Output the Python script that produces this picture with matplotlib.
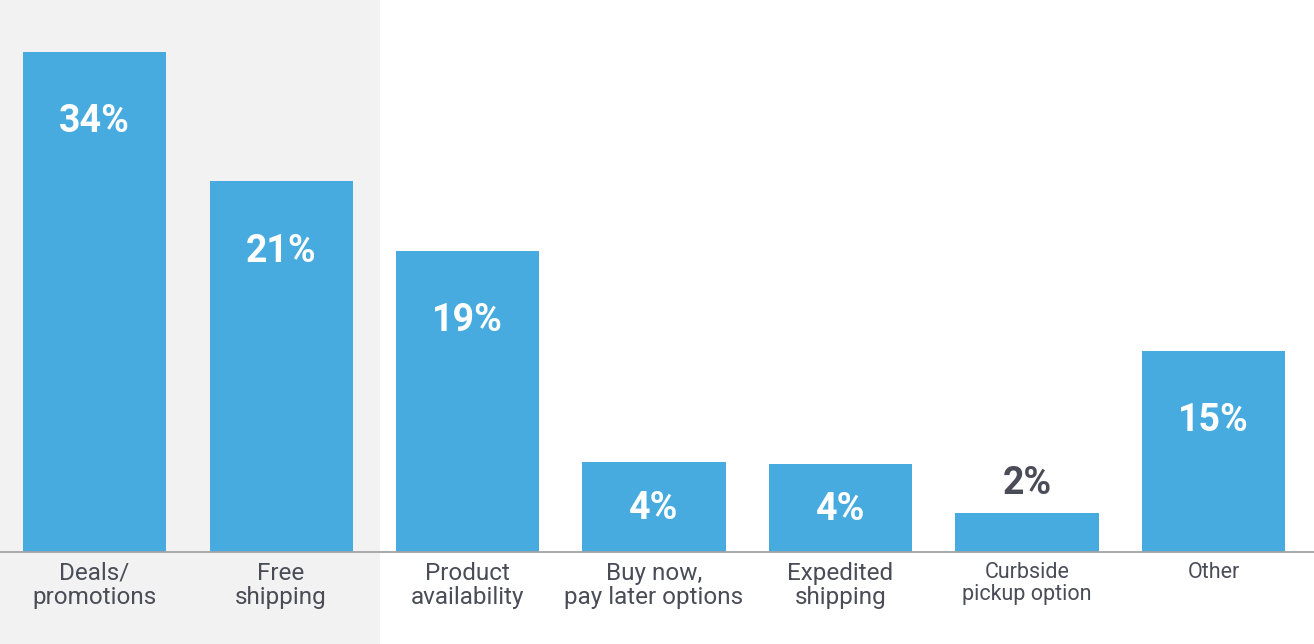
import matplotlib
matplotlib.use('Agg')
import matplotlib.pyplot as plt
from matplotlib.patches import Rectangle
import numpy as np

plt.rcParams['font.family'] = ['Roboto', 'DejaVu Sans']

# Data
categories = ['Deals/\npromotions', 'Free\nshipping', 'Product\navailability',
              'Buy now,\npay later options', 'Expedited\nshipping',
              'Curbside\npickup option', 'Other']
values = [34, 21, 19, 4, 4, 2, 15]
# drawn bar heights (the source art is not to scale)
bar_heights = [34, 25.2, 20.5, 6.1, 6.0, 2.65, 13.7]

blue = '#47abdf'
text_dark = '#4a4d57'

fig = plt.figure(figsize=(13.14, 6.44), dpi=100)
fig.patch.set_facecolor('white')
# grey highlight panel behind the first two columns
fig.patches.append(Rectangle((0, 0), 380 / 1314, 1, transform=fig.transFigure,
                             facecolor='#f2f2f2', edgecolor='none', zorder=-1))

ax = fig.add_axes([0, 1 - 552 / 644, 1, 552 / 644])
ax.set_facecolor('none')
ax.set_zorder(1)

x = np.arange(len(categories))
ax.bar(x, bar_heights, width=0.767, color=blue, zorder=2)

ax.set_xlim(-0.507, 6.539)
ax.set_ylim(0, 552 / 14.706)

for i, (v, h) in enumerate(zip(values, bar_heights)):
    if h < 4:
        ax.text(i, h + 2.0, f'{v}%', ha='center', va='center', fontsize=27,
                fontweight='bold', color=text_dark, zorder=3)
    else:
        y = max(h - 4.75, h / 2 - 0.1)
        ax.text(i, y, f'{v}%', ha='center', va='center', fontsize=27,
                fontweight='bold', color='white', zorder=3)

# baseline
ax.axhline(0, color='#a3a3a3', linewidth=1.3, zorder=3, clip_on=False)

for s in ax.spines.values():
    s.set_visible(False)
ax.set_yticks([])
ax.set_xticks(x)
ax.set_xticklabels(categories, color=text_dark, fontsize=17.5, linespacing=1.05)
ax.tick_params(axis='x', length=0, pad=7)
for lbl in ax.get_xticklabels()[5:]:
    lbl.set_fontsize(15.5)

fig.savefig('out.png', dpi=100)
